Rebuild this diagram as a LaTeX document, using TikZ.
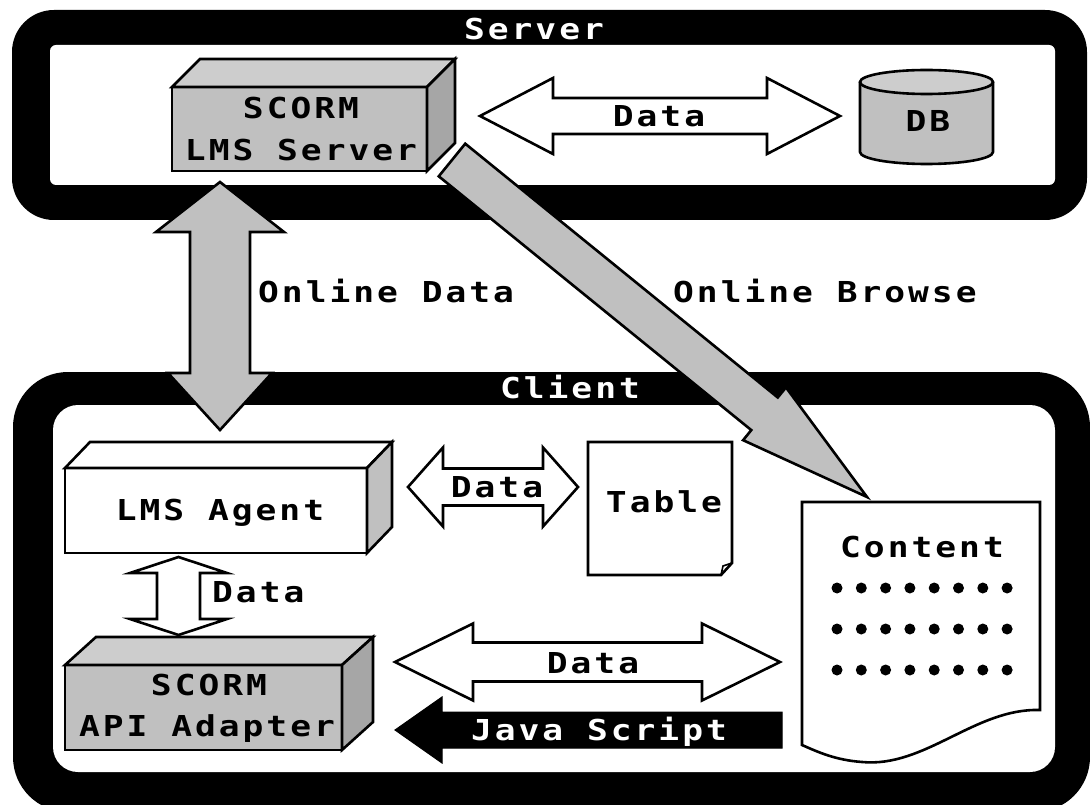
\documentclass[tikz,border=0pt]{standalone}
\usepackage{fontspec}
\usetikzlibrary{calc}
\newfontfamily\diafont[LetterSpace=10.4,FakeStretch=1.2]{DejaVu Sans Mono}
\definecolor{gfront}{HTML}{C0C0C0}
\definecolor{gtop}{HTML}{CDCDCD}
\definecolor{gside}{HTML}{A6A6A6}
% double block arrow: style, A, B, w, hwA, hlA, hwB, hlB
\newcommand\dblarrow[8]{%
  \draw[#1] (#2) -- ($(#2)!#6!(#3)!#5!90:(#3)$) -- ($(#2)!#6!(#3)!#4!90:(#3)$)
   -- ($(#3)!#8!(#2)!#4!-90:(#2)$) -- ($(#3)!#8!(#2)!#7!-90:(#2)$) -- (#3)
   -- ($(#3)!#8!(#2)!#7!90:(#2)$) -- ($(#3)!#8!(#2)!#4!90:(#2)$)
   -- ($(#2)!#6!(#3)!#4!-90:(#3)$) -- ($(#2)!#6!(#3)!#5!-90:(#3)$) -- cycle;}
% single block arrow: style, tail, tip, w, hw, hl
\newcommand\sglarrow[6]{%
  \draw[#1] ($(#2)!#4!90:(#3)$) -- ($(#3)!#6!(#2)!#4!-90:(#2)$) -- ($(#3)!#6!(#2)!#5!-90:(#2)$)
   -- (#3) -- ($(#3)!#6!(#2)!#5!90:(#2)$) -- ($(#3)!#6!(#2)!#4!90:(#2)$)
   -- ($(#2)!#4!-90:(#3)$) -- cycle;}
% 3D faces of a box node: node, dx, dy, top colour, side colour
\newcommand\boxfaces[5]{%
  \draw[outl, fill=#4] (#1.north west) -- ++(#2,#3) -- ($(#1.north east)+(#2,#3)$) -- (#1.north east) -- cycle;
  \draw[outl, fill=#5] (#1.north east) -- ++(#2,#3) -- ($(#1.south east)+(#2,#3)$) -- (#1.south east) -- cycle;}
\begin{document}
\begin{tikzpicture}[x=1pt,y=-1pt,line join=miter,
  outl/.style={draw=black,line width=2.6pt},
  lbl/.style={font=\diafont\bfseries\fontsize{28.8}{34}\selectfont,anchor=base,inner sep=0pt},
  wlbl/.style={lbl,text=white},
  boxfront/.style={outl,outer sep=0pt,inner sep=0pt},
  whitearrow/.style={outl,fill=white},
  grayarrow/.style={outl,fill=gfront},
  blackarrow/.style={draw=black,fill=black,line width=1pt}]
\clip (0,0) rectangle (1090,805);
\fill[white] (0,0) rectangle (1090,805);
% frames
\fill[black,rounded corners=42pt] (12,10) rectangle (1087,220);
\fill[white,rounded corners=6pt] (50,45) rectangle (1055,185);
\fill[black,rounded corners=55pt] (13,372) rectangle (1090,812);
\fill[white,rounded corners=25pt] (53,405) rectangle (1055,772);
\node[wlbl] (serverlbl) at (534,40) {Server};
\node[wlbl] (clientlbl) at (570,398) {Client};
% SCORM LMS Server
\node[boxfront,fill=gfront,minimum width=255pt,minimum height=84pt] (srv) at (299.5,129) {};
\boxfaces{srv}{28}{-28}{gtop}{gside}
\node[lbl] (srvt1) at (301,118.5) {SCORM};
\node[lbl] (srvt2) at (301,160.5) {LMS Server};
% DB
\fill[gfront] (860,82) rectangle (993,152);
\fill[gfront] (926.5,152) ellipse [x radius=66.5pt,y radius=12pt];
\draw[outl] (860,82) -- (860,152) arc[start angle=180,end angle=360,x radius=66.5pt,y radius=12pt] -- (993,82);
\draw[outl,fill=gtop] (926.5,82) ellipse [x radius=66.5pt,y radius=12pt];
\node[lbl] (db) at (928,132) {DB};
% Server data arrow
\coordinate (sd1) at (480,116);
\coordinate (sd2) at (840,116);
\dblarrow{whitearrow}{sd1}{sd2}{18pt}{38pt}{73pt}{38pt}{73pt}
\node[lbl] (sdl) at (659,127) {Data};
% LMS Agent
\node[boxfront,fill=white,minimum width=302pt,minimum height=85pt] (agent) at (216,510.5) {};
\boxfaces{agent}{25}{-26}{white}{gfront}
\node[lbl] (agentt) at (220,520) {LMS Agent};
% SCORM API Adapter
\node[boxfront,fill=gfront,minimum width=277pt,minimum height=85pt] (api) at (203.5,707.5) {};
\boxfaces{api}{31}{-28}{gtop}{gside}
\node[lbl] (apit1) at (209,695) {SCORM};
\node[lbl] (apit2) at (207,736) {API Adapter};
% Table
\draw[outl,fill=white] (588,442) -- (732,442) -- (732,563) -- (721,575) -- (588,575) -- cycle;
\draw[draw=black,line width=1.6pt] (721,575) -- (723,566) -- (732,563);
\node[lbl] (table) at (664,512) {Table};
% Content
\draw[outl,fill=white] (802,502) -- (1040,502) -- (1040,710)
  .. controls (975,708) and (925,768) .. (862,762)
  .. controls (835,760) and (818,752) .. (802,745) -- cycle;
\node[lbl] (content) at (922,557) {Content};
\foreach \r in {588,629,670}
  \foreach \i in {0,...,7}
    \fill (837+24.3*\i,\r) circle (5.5pt);
% Online Data arrow
\coordinate (od1) at (220,182);
\coordinate (od2) at (220,430);
\dblarrow{grayarrow}{od1}{od2}{30pt}{64pt}{50pt}{52pt}{57pt}
\node[lbl,anchor=base west] (odl) at (258,302) {Online Data};
% Online Browse arrow
\coordinate (ob1) at (452,160);
\coordinate (ob2) at (867,497);
\sglarrow{grayarrow}{ob1}{ob2}{21pt}{34pt}{132pt}
\node[lbl,anchor=base west] (obl) at (673,302) {Online Browse};
% Agent - Table
\coordinate (at1) at (408,487);
\coordinate (at2) at (578,487);
\dblarrow{whitearrow}{at1}{at2}{18.5pt}{39.5pt}{35pt}{39.5pt}{35pt}
\node[lbl] (atl) at (497,497) {Data};
% Agent - API
\coordinate (va1) at (178.5,557);
\coordinate (va2) at (178.5,635);
\dblarrow{whitearrow}{va1}{va2}{21.5pt}{48.5pt}{16pt}{48.5pt}{16pt}
\node[lbl,anchor=base west] (val) at (212,602) {Data};
% API - Content data
\coordinate (bd1) at (395,662);
\coordinate (bd2) at (780,662);
\dblarrow{whitearrow}{bd1}{bd2}{19.5pt}{38.5pt}{78pt}{38.5pt}{78pt}
\node[lbl] (bdl) at (593,673) {Data};
% Java Script arrow
\coordinate (js1) at (782,730);
\coordinate (js2) at (395,730);
\sglarrow{blackarrow}{js1}{js2}{18pt}{33pt}{47pt}
\node[wlbl] (jsl) at (599,740) {Java Script};
\end{tikzpicture}
\end{document}
